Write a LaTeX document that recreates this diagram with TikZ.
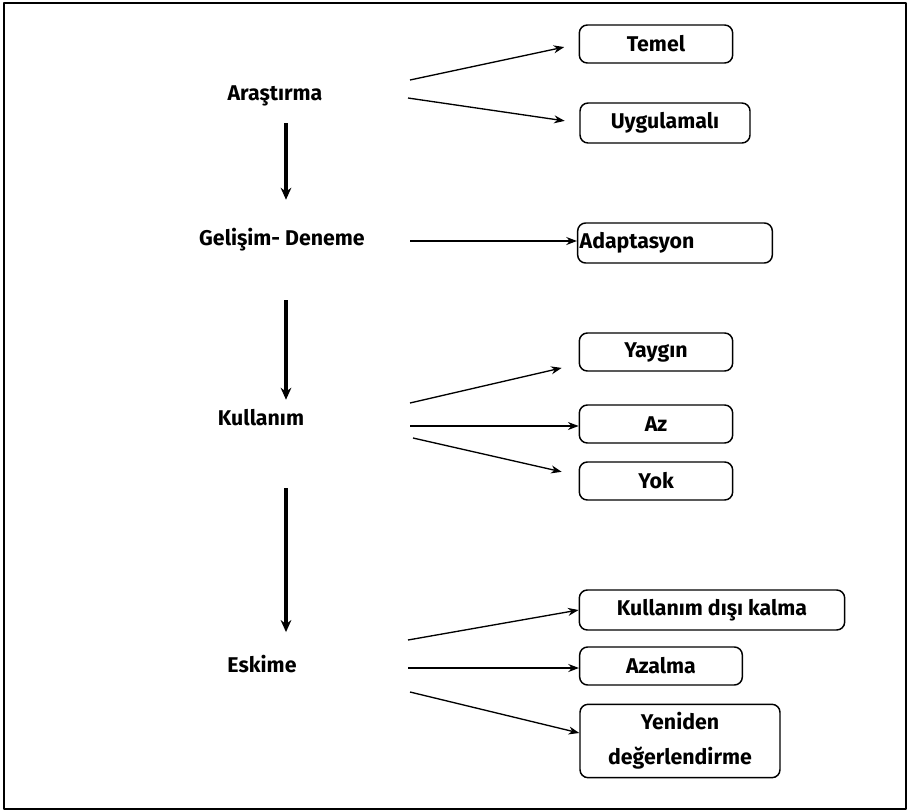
\documentclass[tikz,border=0pt]{standalone}
\usepackage{fontspec}
\setmainfont{Fira Sans}
\usepackage{tikz}
\usetikzlibrary{arrows.meta,calc}

\begin{document}
\begin{tikzpicture}[x=0.75pt,y=-0.75pt,>=Stealth,line join=round,
  stage/.style={font=\bfseries\fontsize{16}{19}\selectfont,inner sep=0pt,text height=11pt,text depth=3pt},
  box/.style={draw,rounded corners=6pt,line width=1.1pt,inner sep=0pt,font=\bfseries\fontsize{16}{19}\selectfont,align=center},
  arr/.style={-{Stealth[length=8pt,width=6pt]},line width=1pt},
  bigarr/.style={-{Stealth[length=9pt,width=8pt]},line width=2.6pt}]
  \useasboundingbox (0,0) rectangle (907,811);
  \draw[line width=1.5pt] (4,3) rectangle (906,809);
  % stages
  \node[stage] (arastirma) at (275,95) {Araştırma};
  \node[stage] (gelisim) at (282,240) {Gelişim- Deneme};
  \node[stage] (kullanim) at (261,420) {Kullanım};
  \node[stage] (eskime) at (262,667) {Eskime};
  \coordinate (col) at (286,0);
  \draw[bigarr,shorten <=14pt,shorten >=23pt] (arastirma.south -| col) -- (gelisim.north -| col);
  \draw[bigarr,shorten <=38pt,shorten >=8pt] (gelisim.south -| col) -- (kullanim.north -| col);
  \draw[bigarr,shorten <=44pt,shorten >=19pt] (kullanim.south -| col) -- (eskime.north -| col);
  % boxes
  \node[box,minimum width=115pt,minimum height=28.5pt] (temel) at (656,44) {Temel};
  \node[box,minimum width=127.5pt,minimum height=30pt] (uygulamali) at (665,123) {Uygulamalı};
  \node[box,minimum width=146pt,minimum height=30pt,text width=143pt,align=left] (adaptasyon) at (675,243) {Adaptasyon};
  \node[box,minimum width=115pt,minimum height=28.5pt] (yaygin) at (656,352) {Yaygın};
  \node[box,minimum width=115pt,minimum height=28.5pt] (az) at (656,424) {Az};
  \node[box,minimum width=115pt,minimum height=28.5pt] (yok) at (656,481) {Yok};
  \node[box,minimum width=199pt,minimum height=30pt] (disi) at (712,610) {Kullanım dışı kalma};
  \node[box,minimum width=122pt,minimum height=28.5pt] (azalma) at (661,666) {Azalma};
  \node[box,minimum width=150pt,minimum height=55pt,font=\bfseries\fontsize{16}{26}\selectfont] (yeniden) at (680,741) {Yeniden\\değerlendirme};
  % fan starts
  \coordinate (a1) at (410,80);
  \coordinate (a2) at (408,98);
  \coordinate (g1) at (410,241);
  \coordinate (k1) at (410,403);
  \coordinate (k2) at (410,426);
  \coordinate (k3) at (413,438);
  \coordinate (e1) at (408,640);
  \coordinate (e2) at (408,668);
  \coordinate (e3) at (410,692);
  \draw[arr,shorten >=11pt] (a1) -- (temel.west);
  \draw[arr,shorten >=11pt] (a2) -- (uygulamali.west);
  \draw[arr] (g1) -- (g1 -| adaptasyon.west);
  \draw[arr,shorten >=13pt] (k1) -- ([yshift=-9pt]yaygin.west);
  \draw[arr] (k2) -- (k2 -| az.west);
  \draw[arr,shorten >=13pt] (k3) -- ([yshift=4pt]yok.west);
  \draw[arr] (e1) -- (disi.west);
  \draw[arr] (e2) -- (e2 -| azalma.west);
  \draw[arr] (e3) -- ([yshift=6pt]yeniden.west);
\end{tikzpicture}
\end{document}
